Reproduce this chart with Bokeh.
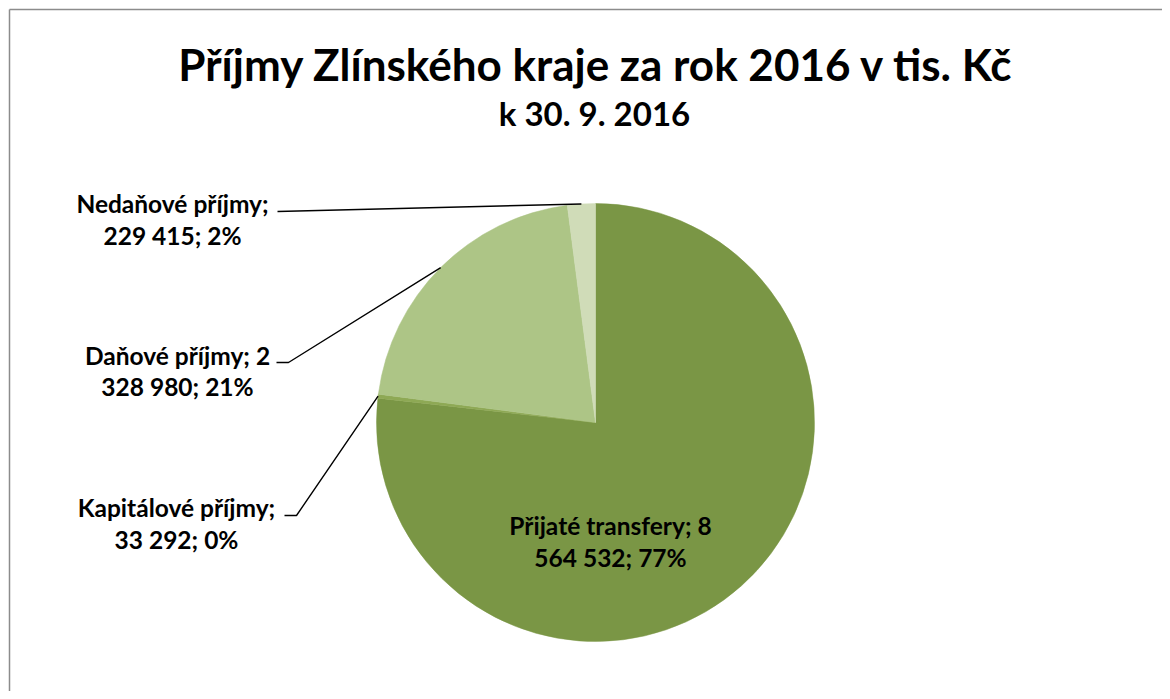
import numpy as np
from bokeh.plotting import figure
from bokeh.models import Range1d
from bokeh.core.properties import value
from bokeh.embed import file_html
from bokeh.resources import INLINE

# ---- data ----
categories = ["Přijaté transfery", "Kapitálové příjmy", "Daňové příjmy", "Nedaňové příjmy"]
values = [8564532, 33292, 2328980, 229415]
colors = ["#7A9645", "#8EA955", "#ADC586", "#D0DCB8"]
words_first_line = [3, 2, 3, 2]   # how Excel wrapped each label
title = "Příjmy Zlínského kraje za rok 2016 v tis. Kč"
subtitle = "k 30. 9. 2016"

# ---- layout (pixel coordinates of the picture) ----
W, H = 1162, 691
FONT = "Lato"


def Y(py):
    return H - py


cx, cy, r = 595, 422, 219

# label centres (x, line 1 y, line 2 y)
label_pos = {
    "Přijaté transfery": (610, 525, 557),
    "Kapitálové příjmy": (176, 507, 539),
    "Daňové příjmy": (177, 355, 386),
    "Nedaňové příjmy": (172, 203, 235),
}
# elbow points of leader lines, before the slice anchor
leader_start = {
    "Kapitálové příjmy": [(284, 515), (296, 515)],
    "Daňové příjmy": [(276, 362), (288, 362)],
    "Nedaňové příjmy": [(277, 211)],
}

p = figure(width=W, height=H, output_backend="svg", toolbar_location=None,
           x_range=Range1d(0, W), y_range=Range1d(0, H),
           x_axis_location=None, y_axis_location=None, min_border=0)
p.grid.visible = False
p.outline_line_color = None
p.background_fill_color = "white"
p.border_fill_color = "white"

# chart border (only its left and top edges fall inside the window)
p.segment(x0=[9, 9], y0=[Y(9), Y(9)], x1=[9, W + 50], y1=[Y(H + 50), Y(9)],
          line_color="#8C8C8C", line_width=1.5)

vals = np.array(values, dtype=float)
total = vals.sum()
frac = vals / total
cum = np.concatenate([[0], np.cumsum(frac)])
starts = np.pi / 2 - 2 * np.pi * cum[:-1]
ends = np.pi / 2 - 2 * np.pi * cum[1:]
mids = (starts + ends) / 2

p.wedge(x=cx, y=Y(cy), radius=r, start_angle=starts, end_angle=ends,
        direction="clock", fill_color=colors, line_color=colors, line_width=0.5)

# leader lines
for i, cat in enumerate(categories):
    if cat in leader_start:
        ax = cx + r * np.cos(mids[i])
        ay = Y(cy) + r * np.sin(mids[i])
        pts = leader_start[cat]
        xs = [pt[0] for pt in pts] + [ax]
        ys = [Y(pt[1]) for pt in pts] + [ay]
        p.line(xs, ys, line_color="black", line_width=1.4)

# labels
for i, cat in enumerate(categories):
    num = f"{values[i]:,}".replace(",", " ")
    pct = f"{round(100 * frac[i])}%"
    full = f"{cat}; {num}; {pct}".split(" ")
    n = words_first_line[i]
    l1, l2 = " ".join(full[:n]), " ".join(full[n:])
    x, y1, y2 = label_pos[cat]
    p.text(x=[x, x], y=[Y(y1), Y(y2)], text=[l1, l2], text_align="center",
           text_baseline="middle", text_font=value(FONT), text_font_style="bold",
           text_font_size="24.5px", text_color="black")

# titles
p.text(x=[596], y=[Y(63)], text=[title], text_align="center", text_baseline="middle",
       text_font=value(FONT), text_font_style="bold", text_font_size="44px", text_color="black")
p.text(x=[594], y=[Y(112)], text=[subtitle], text_align="center", text_baseline="middle",
       text_font=value(FONT), text_font_style="bold", text_font_size="33px", text_color="black")

open("out.html", "w").write(file_html(p, INLINE))
